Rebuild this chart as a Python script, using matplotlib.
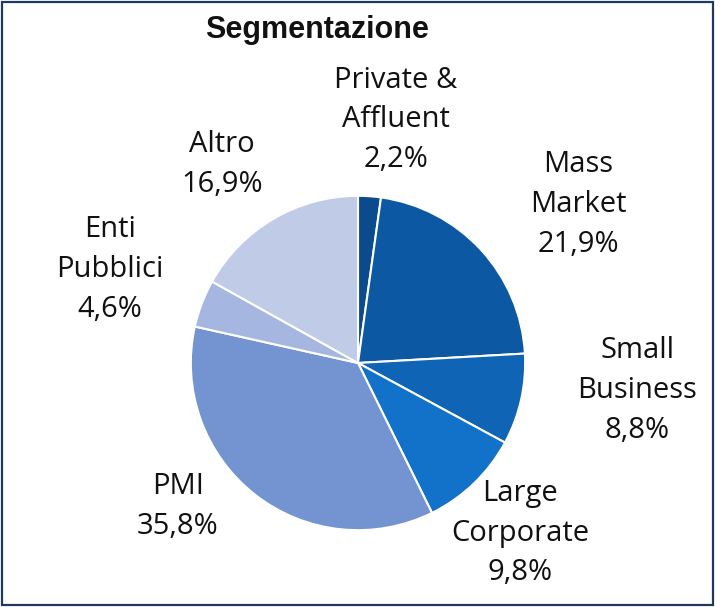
#!/usr/bin/env python3
"""Pie chart: Segmentazione (share by customer segment)."""

import matplotlib
matplotlib.use("Agg")
import matplotlib.pyplot as plt
from matplotlib.patches import Rectangle

# data
segments = ["Private &\nAffluent", "Mass\nMarket", "Small\nBusiness", "Large\nCorporate",
            "PMI", "Enti\nPubblici", "Altro"]
shares = [2.2, 21.9, 8.8, 9.8, 35.8, 4.6, 16.9]

colors = ["#0b4a8c", "#0c58a2", "#0f64b5", "#1271c9", "#7394d0", "#a5b7e1", "#bfcbe7"]

# label centres in pixels (x, y from top)
label_pos = [(396, 120), (578, 205), (637, 390), (520, 533), (178, 507), (110, 270), (222, 165)]

W, H = 715, 607
fig = plt.figure(figsize=(W / 100, H / 100), dpi=100)

cx, cy, r = 358, 363, 168
ax = fig.add_axes([(cx - r) / W, (H - cy - r) / H, 2 * r / W, 2 * r / H])
ax.pie(shares, colors=colors, startangle=90, counterclock=False,
       wedgeprops=dict(edgecolor="white", linewidth=1.5))
ax.set_xlim(-1.005, 1.005)
ax.set_ylim(-1.005, 1.005)
ax.set_aspect("equal")
ax.axis("off")

for name, val, (px, py) in zip(segments, shares, label_pos):
    txt = f"{name}\n{val:.1f}%".replace(".", ",")
    fig.text(px / W, 1 - py / H, txt, ha="center", va="center", fontsize=21,
             family="Open Sans", color="#111111", linespacing=1.5)

fig.text(317 / W, 1 - 30 / H, "Segmentazione", ha="center", va="center",
         fontsize=22, fontweight="bold", family="Liberation Sans", color="#111111")

fig.patches.append(Rectangle((2 / W, 2 / H), 1 - 4 / W, 1 - 4 / H, transform=fig.transFigure,
                             fill=False, edgecolor="#1f3a5f", linewidth=1.6))

fig.savefig("out.png", dpi=100)
